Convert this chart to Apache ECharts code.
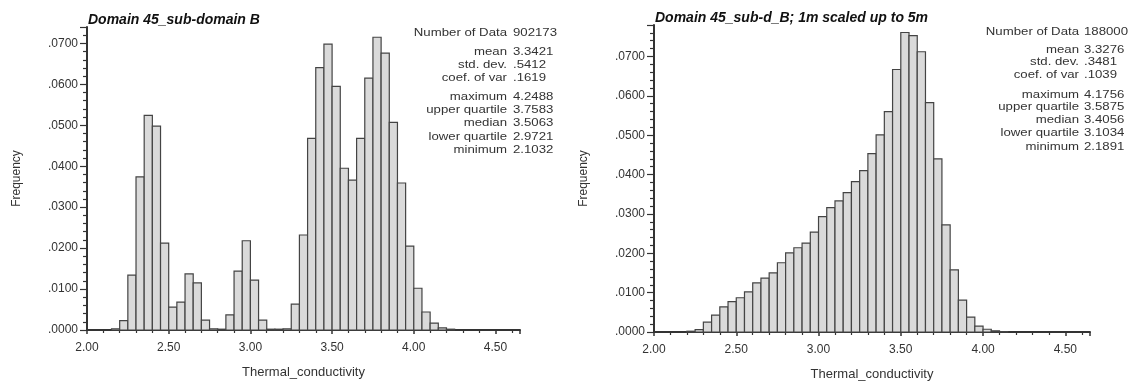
<!DOCTYPE html>
<html>
<head>
<meta charset="utf-8">
<script src="https://cdn.jsdelivr.net/npm/echarts@6/dist/echarts.min.js"></script>
<style>
  html, body { margin: 0; padding: 0; background: #fff; }
  #chart { width: 1135px; height: 382px; }
</style>
</head>
<body>
<div id="chart"></div>
<script>
// ---------- data ----------
const binWidth = 0.05;

// Left: Domain 45_sub-domain B (bin lower edges and relative frequencies)
const binsA = [2.15, 2.20, 2.25, 2.30, 2.35, 2.40, 2.45, 2.50, 2.55, 2.60, 2.65, 2.70, 2.75, 2.80, 2.85, 2.90, 2.95, 3.00, 3.05, 3.10, 3.15, 3.20, 3.25, 3.30, 3.35, 3.40, 3.45, 3.50, 3.55, 3.60, 3.65, 3.70, 3.75, 3.80, 3.85, 3.90, 3.95, 4.00, 4.05, 4.10, 4.15, 4.20];
const freqA = [0.0003, 0.0023, 0.0134, 0.0374, 0.0524, 0.0498, 0.0212, 0.0056, 0.0068, 0.0137, 0.0115, 0.0024, 0.0003, 0.0002, 0.0037, 0.0144, 0.0218, 0.0122, 0.0024, 0.0002, 0.0002, 0.0003, 0.0063, 0.0232, 0.0468, 0.0641, 0.0698, 0.0595, 0.0395, 0.0366, 0.0468, 0.0615, 0.0715, 0.0676, 0.0507, 0.0359, 0.0205, 0.0102, 0.0044, 0.0017, 0.0005, 0.0002];

// Right: Domain 45_sub-d_B; 1m scaled up to 5m
const binsB = [2.20, 2.25, 2.30, 2.35, 2.40, 2.45, 2.50, 2.55, 2.60, 2.65, 2.70, 2.75, 2.80, 2.85, 2.90, 2.95, 3.00, 3.05, 3.10, 3.15, 3.20, 3.25, 3.30, 3.35, 3.40, 3.45, 3.50, 3.55, 3.60, 3.65, 3.70, 3.75, 3.80, 3.85, 3.90, 3.95, 4.00, 4.05, 4.10];
const freqB = [0.0002, 0.0006, 0.0025, 0.0043, 0.0064, 0.0077, 0.0087, 0.0102, 0.0125, 0.0137, 0.0150, 0.0176, 0.0201, 0.0214, 0.0226, 0.0254, 0.0293, 0.0316, 0.0333, 0.0354, 0.0382, 0.0410, 0.0453, 0.0501, 0.0560, 0.0667, 0.0761, 0.0753, 0.0712, 0.0583, 0.0440, 0.0272, 0.0158, 0.0081, 0.0038, 0.0015, 0.0007, 0.0003, 0.0001];

const titleA = 'Domain 45_sub-domain B';
const titleB = 'Domain 45_sub-d_B; 1m scaled up to 5m';

const statLabels = ['Number of Data', 'mean', 'std. dev.', 'coef. of var', 'maximum', 'upper quartile', 'median', 'lower quartile', 'minimum'];
const statsA = ['902173', '3.3421', '.5412', '.1619', '4.2488', '3.7583', '3.5063', '2.9721', '2.1032'];
const statsB = ['188000', '3.3276', '.3481', '.1039', '4.1756', '3.5875', '3.4056', '3.1034', '2.1891'];

const xTickLabels = ['2.00', '2.50', '3.00', '3.50', '4.00', '4.50'];
const xName = 'Thermal_conductivity';
const yName = 'Frequency';

// ---------- chart ----------
const chart = echarts.init(document.getElementById('chart'), null, { renderer: 'canvas' });

const FONT = 'Liberation Sans, Arial, sans-serif';
const AXIS_COLOR = '#333';

function histData(bins, freq) {
  return bins.map((b, i) => [b, b + binWidth, freq[i]]);
}

function renderBar(params, api) {
  const x0 = api.value(0), x1 = api.value(1), y = api.value(2);
  const p0 = api.coord([x0, y]);
  const p1 = api.coord([x1, 0]);
  return {
    type: 'rect',
    shape: { x: p0[0], y: p0[1], width: p1[0] - p0[0], height: p1[1] - p0[1] },
    style: { fill: '#dadada', stroke: '#444', lineWidth: 1.2 }
  };
}

function xAxisCfg(gridIndex) {
  return {
    type: 'value', gridIndex, min: 2.0, max: 4.65, interval: 0.5,
    name: xName, nameLocation: 'middle', nameGap: 36,
    nameTextStyle: { fontFamily: FONT, fontSize: 13, color: '#333' },
    axisLine: { show: true, onZero: false, lineStyle: { color: AXIS_COLOR, width: 2 } },
    axisTick: { show: true, length: 4, lineStyle: { color: AXIS_COLOR, width: 1.5 } },
    minorTick: { show: true, splitNumber: 5, length: 3, lineStyle: { color: AXIS_COLOR, width: 1.2 } },
    splitLine: { show: false },
    axisLabel: {
      fontFamily: FONT, fontSize: 12, color: '#333', margin: 12,
      formatter: v => {
        const s = v.toFixed(2);
        return xTickLabels.indexOf(s) >= 0 && Math.abs(v * 2 - Math.round(v * 2)) < 1e-6 ? s : '';
      }
    }
  };
}

function yAxisCfg(gridIndex, max) {
  return {
    type: 'value', gridIndex, min: 0, max, interval: 0.01,
    name: yName, nameLocation: 'middle', nameRotate: 90, nameGap: 64,
    nameTextStyle: { fontFamily: FONT, fontSize: 12, color: '#333' },
    axisLine: { show: true, lineStyle: { color: AXIS_COLOR, width: 2 } },
    axisTick: { show: true, length: 7, lineStyle: { color: AXIS_COLOR, width: 1.2 } },
    minorTick: { show: true, splitNumber: 5, length: 4, lineStyle: { color: AXIS_COLOR, width: 1.2 } },
    splitLine: { show: false },
    axisLabel: {
      fontFamily: FONT, fontSize: 12, color: '#333', margin: 9,
      formatter: v => (Math.abs(v * 100 - Math.round(v * 100)) < 1e-6 ? v.toFixed(4).replace(/^0/, '') : '')
    }
  };
}

function statsGraphics(rightEdge, valueLeft, ys, values) {
  const out = [];
  statLabels.forEach((lab, i) => {
    out.push({
      type: 'text', x: rightEdge, y: ys[i], scaleX: 1.2,
      style: { text: lab, fill: '#333', font: '11px ' + FONT, textAlign: 'right', textVerticalAlign: 'middle' }
    });
    out.push({
      type: 'text', x: valueLeft, y: ys[i], scaleX: 1.2,
      style: { text: values[i], fill: '#333', font: '11px ' + FONT, textAlign: 'left', textVerticalAlign: 'middle' }
    });
  });
  return out;
}

const statYA = [33, 52, 65, 78, 97, 110, 123, 137, 150];
const statYB = [32, 50, 62, 75, 95, 107, 120, 133, 147];

const option = {
  backgroundColor: '#fff',
  animation: false,
  grid: [
    { left: 87, right: 615, top: 27, bottom: 52, outerBoundsMode: 'none', containLabel: false },
    { left: 654, right: 45, top: 25, bottom: 50, outerBoundsMode: 'none', containLabel: false }
  ],
  xAxis: [xAxisCfg(0), xAxisCfg(1)],
  yAxis: [yAxisCfg(0, 0.074), yAxisCfg(1, 0.078)],
  series: [
    { type: 'custom', xAxisIndex: 0, yAxisIndex: 0, renderItem: renderBar, data: histData(binsA, freqA), encode: { x: [0, 1], y: 2 } },
    { type: 'custom', xAxisIndex: 1, yAxisIndex: 1, renderItem: renderBar, data: histData(binsB, freqB), encode: { x: [0, 1], y: 2 } }
  ],
  graphic: [
    { type: 'text', x: 88, y: 20, style: { text: titleA, fill: '#111', font: 'italic bold 14px ' + FONT, textAlign: 'left', textVerticalAlign: 'middle' } },
    { type: 'text', x: 655, y: 18, style: { text: titleB, fill: '#111', font: 'italic bold 14px ' + FONT, textAlign: 'left', textVerticalAlign: 'middle' } }
  ].concat(statsGraphics(507, 513, statYA, statsA), statsGraphics(1079, 1084, statYB, statsB))
};

chart.setOption(option);
</script>
</body>
</html>
